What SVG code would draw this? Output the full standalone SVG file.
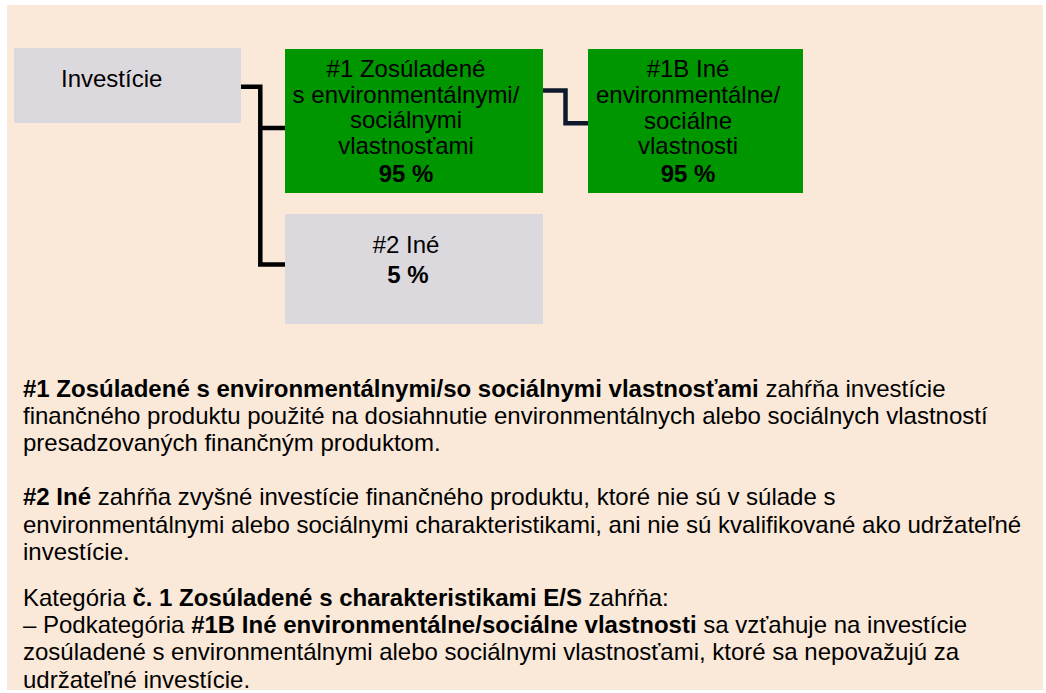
<svg xmlns="http://www.w3.org/2000/svg" width="1046" height="693" viewBox="0 0 1046 693">
<style>
text{font-family:"Liberation Sans",Arial,sans-serif;font-size:24px;fill:#000}
.c{text-anchor:middle}
.b{font-weight:bold}
.gray{fill:#DCD9DE}
.green{fill:#009600}
.conn{fill:none;stroke:#000;stroke-width:4.5;stroke-linejoin:miter}
.conn2{fill:none;stroke:#0E1A2B;stroke-width:4.5;stroke-linejoin:miter}
</style>
<rect x="0" y="0" width="1046" height="693" fill="#FFFFFF"/>
<rect x="7" y="5" width="1036" height="685" fill="#FAE8D8"/>
<g id="connectors">
<polyline class="conn" points="241,86.7 260.3,86.7 260.3,264.5 285,264.5"/>
<line class="conn" x1="260.3" y1="128" x2="285" y2="128"/>
<polyline class="conn2" points="543,90.5 565.5,90.5 565.5,123.3 588,123.3"/>
</g>
<g id="node-investicie">
<rect class="gray" x="14" y="48" width="227" height="75"/>
<text x="61" y="87">Investície</text>
</g>
<g id="node-1">
<rect class="green" x="285" y="49" width="258" height="144"/>
<text class="c" x="406" y="77">#1 Zosúladené</text>
<text class="c" x="406" y="102.5">s environmentálnymi/</text>
<text class="c" x="406" y="128">sociálnymi</text>
<text class="c" x="406" y="154">vlastnosťami</text>
<text class="c b" x="406" y="182">95 %</text>
</g>
<g id="node-1b">
<rect class="green" x="588" y="49" width="215" height="144"/>
<text class="c" x="688" y="77">#1B Iné</text>
<text class="c" x="688" y="103">environmentálne/</text>
<text class="c" x="688" y="129">sociálne</text>
<text class="c" x="688" y="154">vlastnosti</text>
<text class="c b" x="688" y="182">95 %</text>
</g>
<g id="node-2">
<rect class="gray" x="285" y="214" width="258" height="110"/>
<text class="c" x="406" y="252.5">#2 Iné</text>
<text class="c b" x="408" y="282.7">5 %</text>
</g>
<g id="legend">
<text x="23" y="396.5"><tspan class="b">#1 Zosúladené s environmentálnymi/so sociálnymi vlastnosťami</tspan> zahŕňa investície</text>
<text x="23" y="423.5">finančného produktu použité na dosiahnutie environmentálnych alebo sociálnych vlastností</text>
<text x="23" y="451">presadzovaných finančným produktom.</text>
<text x="23" y="505"><tspan class="b">#2 Iné</tspan> zahŕňa zvyšné investície finančného produktu, ktoré nie sú v súlade s</text>
<text x="23" y="532.5">environmentálnymi alebo sociálnymi charakteristikami, ani nie sú kvalifikované ako udržateľné</text>
<text x="23" y="560">investície.</text>
<text x="23" y="605.5">Kategória <tspan class="b">č. 1 Zosúladené s charakteristikami E/S</tspan> zahŕňa:</text>
<text x="23" y="633">– Podkategória <tspan class="b">#1B Iné environmentálne/sociálne vlastnosti</tspan> sa vzťahuje na investície</text>
<text x="23" y="660">zosúladené s environmentálnymi alebo sociálnymi vlastnosťami, ktoré sa nepovažujú za</text>
<text x="23" y="687.5">udržateľné investície.</text>
</g>
</svg>
